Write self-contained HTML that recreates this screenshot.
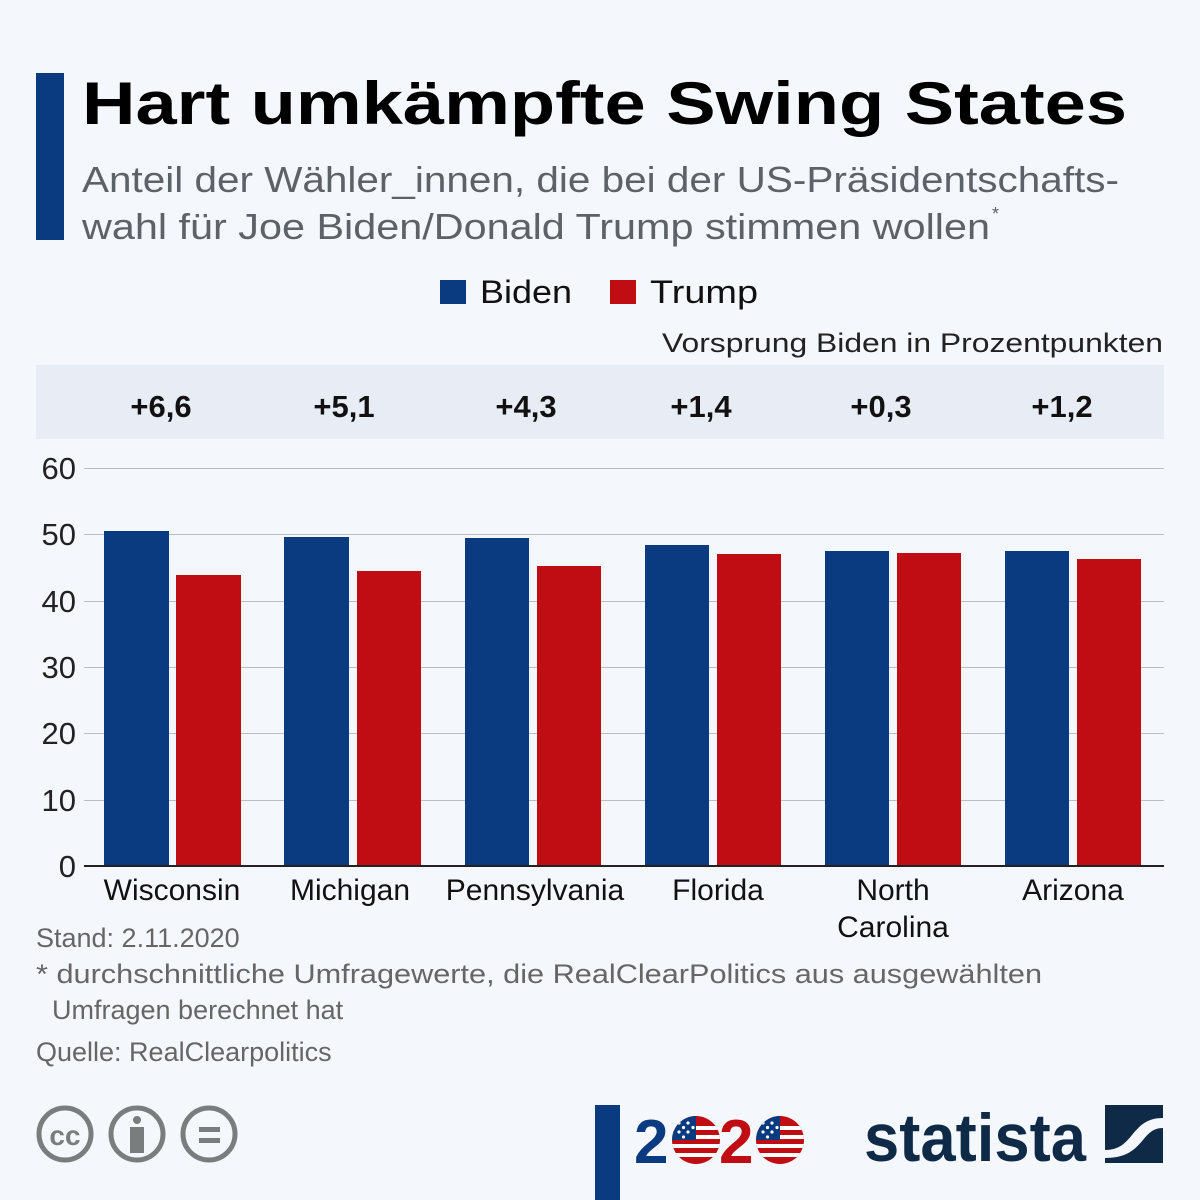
<!DOCTYPE html>
<html><head><meta charset="utf-8"><style>html,body{margin:0;padding:0;background:#f4f7fb}svg{display:block}text{font-family:"Liberation Sans",sans-serif}</style></head>
<body>
<svg width="1200" height="1200" viewBox="0 0 1200 1200" xmlns="http://www.w3.org/2000/svg">
<defs>
<clipPath id="c1"><circle cx="696" cy="1140" r="24"/></clipPath>
<clipPath id="c2"><circle cx="780" cy="1140" r="24"/></clipPath>
<g id="flag">
<rect x="-24" y="-24" width="48" height="48" fill="#c00d13"/>
<rect x="-24" y="-14" width="48" height="4" fill="#fff"/>
<rect x="-24" y="-5" width="48" height="4" fill="#fff"/>
<rect x="-24" y="4" width="48" height="4" fill="#fff"/>
<rect x="-24" y="13" width="48" height="4" fill="#fff"/>
<rect x="-24" y="-24" width="24" height="24" fill="#0a3a7f"/>
<g fill="#fff"><circle cx="-17" cy="-17" r="1.6"/><circle cx="-8" cy="-17" r="1.6"/><circle cx="-17" cy="-8" r="1.6"/><circle cx="-8" cy="-8" r="1.6"/><circle cx="-12.5" cy="-12.5" r="1.6"/><circle cx="-12.5" cy="-3" r="1.6"/><circle cx="-3" cy="-12.5" r="1.6"/></g>
</g>
</defs>
<rect width="1200" height="1200" fill="#f4f7fb"/>
<rect x="36" y="73" width="28" height="167" fill="#0a3a7f"/>
<text x="82" y="124" font-size="60" font-weight="bold" fill="#000" textLength="1045" lengthAdjust="spacingAndGlyphs">Hart umkämpfte Swing States</text>
<text x="82" y="192" font-size="36" fill="#5d6268" textLength="1037" lengthAdjust="spacingAndGlyphs">Anteil der Wähler_innen, die bei der US-Präsidentschafts-</text>
<text x="82" y="239" font-size="36" fill="#5d6268" textLength="908" lengthAdjust="spacingAndGlyphs">wahl für Joe Biden/Donald Trump stimmen wollen</text>
<text x="992" y="220" font-size="18" fill="#5d6268">*</text>
<rect x="440" y="280" width="26" height="24" fill="#0a3a7f"/>
<text x="480" y="303" font-size="32" fill="#111" textLength="92" lengthAdjust="spacingAndGlyphs">Biden</text>
<rect x="610" y="280" width="26" height="24" fill="#c00d13"/>
<text x="650" y="303" font-size="32" fill="#111" textLength="108" lengthAdjust="spacingAndGlyphs">Trump</text>
<text x="662" y="352" font-size="27" fill="#222" textLength="501" lengthAdjust="spacingAndGlyphs">Vorsprung Biden in Prozentpunkten</text>
<rect x="36" y="365" width="1128" height="74" fill="#e8edf5"/>
<g font-size="31" font-weight="bold" fill="#111" text-anchor="middle">
<text x="161" y="417">+6,6</text><text x="344" y="417">+5,1</text><text x="526" y="417">+4,3</text>
<text x="701" y="417">+1,4</text><text x="881" y="417">+0,3</text><text x="1062" y="417">+1,2</text>
</g>
<g stroke="#b9bec5" stroke-width="1">
<line x1="84" y1="468.5" x2="1164" y2="468.5"/><line x1="84" y1="534.5" x2="1164" y2="534.5"/>
<line x1="84" y1="601.5" x2="1164" y2="601.5"/><line x1="84" y1="667.5" x2="1164" y2="667.5"/>
<line x1="84" y1="733.5" x2="1164" y2="733.5"/><line x1="84" y1="800.5" x2="1164" y2="800.5"/>
</g>
<g font-size="31" fill="#222" text-anchor="end">
<text x="76" y="479">60</text><text x="76" y="545">50</text><text x="76" y="612">40</text>
<text x="76" y="678">30</text><text x="76" y="744">20</text><text x="76" y="811">10</text><text x="76" y="877">0</text>
</g>
<g fill="#0a3a7f">
<rect x="104" y="531" width="65" height="335"/><rect x="284" y="537" width="65" height="329"/>
<rect x="465" y="538" width="64" height="328"/><rect x="645" y="545" width="64" height="321"/>
<rect x="825" y="551" width="64" height="315"/><rect x="1005" y="551" width="64" height="315"/>
</g>
<g fill="#c00d13">
<rect x="176" y="575" width="65" height="291"/><rect x="357" y="571" width="64" height="295"/>
<rect x="537" y="566" width="64" height="300"/><rect x="717" y="554" width="64" height="312"/>
<rect x="897" y="553" width="64" height="313"/><rect x="1077" y="559" width="64" height="307"/>
</g>
<line x1="84" y1="866" x2="1164" y2="866" stroke="#222" stroke-width="2"/>
<g font-size="30" fill="#111" text-anchor="middle">
<text x="172" y="900">Wisconsin</text><text x="350" y="900">Michigan</text><text x="535" y="900">Pennsylvania</text>
<text x="718" y="900">Florida</text><text x="893" y="900">North</text><text x="893" y="937">Carolina</text>
<text x="1073" y="900">Arizona</text>
</g>
<g font-size="27" fill="#666">
<text x="36" y="947">Stand: 2.11.2020</text>
<text x="36" y="983" textLength="1006" lengthAdjust="spacingAndGlyphs">* durchschnittliche Umfragewerte, die RealClearPolitics aus ausgewählten</text>
<text x="52" y="1019">Umfragen berechnet hat</text>
<text x="36" y="1061">Quelle: RealClearpolitics</text>
</g>
<g stroke="#7a7d7d" stroke-width="5" fill="none">
<circle cx="65" cy="1134" r="26"/><circle cx="137" cy="1134" r="26"/><circle cx="209" cy="1134" r="26"/>
</g>
<text x="65" y="1145" font-size="28" font-weight="bold" fill="#7a7d7d" text-anchor="middle">cc</text>
<circle cx="137" cy="1120" r="4" fill="#7a7d7d"/><rect x="130" y="1127" width="14" height="26" fill="#7a7d7d"/>
<rect x="199" y="1127" width="21" height="5" fill="#7a7d7d"/><rect x="199" y="1138" width="21" height="5" fill="#7a7d7d"/>
<rect x="595" y="1105" width="25" height="95" fill="#0a3a7f"/>
<text x="634" y="1163" font-size="62" font-weight="bold" fill="#0a3a7f">2</text>
<g clip-path="url(#c1)"><use href="#flag" transform="translate(696,1140)"/></g>
<text x="719" y="1163" font-size="62" font-weight="bold" fill="#c00d13">2</text>
<g clip-path="url(#c2)"><use href="#flag" transform="translate(780,1140)"/></g>
<text x="864" y="1161" font-size="68" font-weight="bold" fill="#0f2a47" textLength="222" lengthAdjust="spacingAndGlyphs">statista</text>
<rect x="1105" y="1105" width="58" height="58" fill="#0f2a47"/>
<path d="M1105 1150 C1135 1150 1130 1118 1163 1118 L1163 1128 C1140 1128 1145 1158 1105 1158Z" fill="#f4f7fb"/>
</svg>
</body></html>
